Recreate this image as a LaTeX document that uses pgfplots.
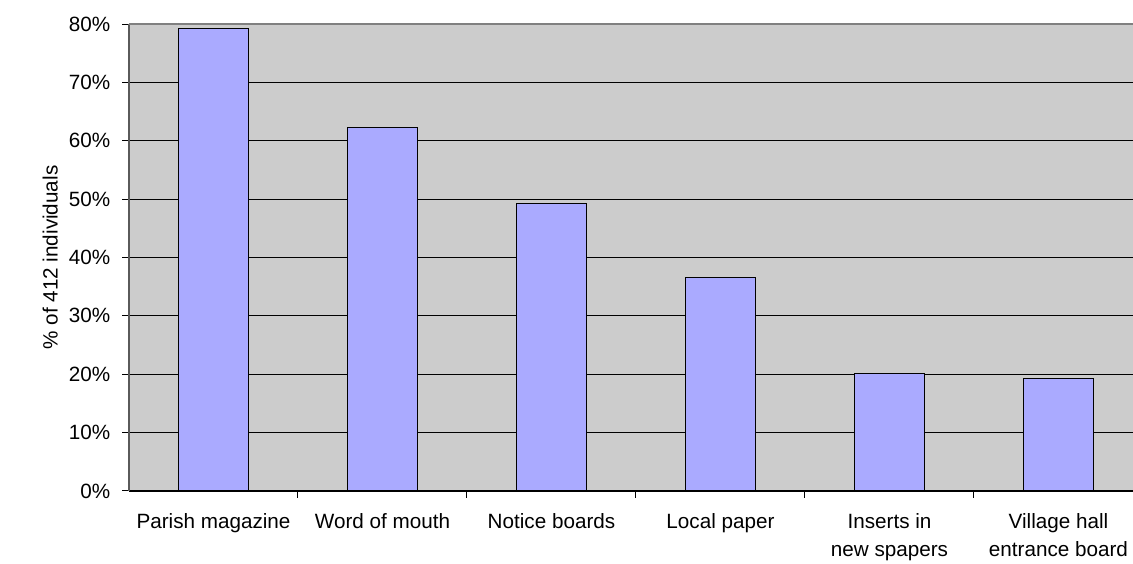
\documentclass[border=0pt]{standalone}
\usepackage{pgfplots}
\pgfplotsset{compat=1.18}
\usepackage{fontspec}
\setmainfont{Liberation Sans}
\definecolor{barfill}{HTML}{AAAAFF}
\definecolor{plotbg}{HTML}{CCCCCC}
\definecolor{frame}{HTML}{808080}
\begin{document}
\begin{tikzpicture}
\useasboundingbox (-96.75pt,-54.75pt) rectangle (753pt,368.25pt);
\begin{scope}[overlay]
\begin{axis}[
  scale only axis,
  width=760.5pt, height=350.25pt,
  xmin=-0.5, xmax=5.5,
  ymin=0, ymax=80,
  ytick={0,10,...,80},
  yticklabel={\pgfmathprintnumber{\tick}\%},
  /pgf/number format/assume math mode=true,
  xtick={0,1,2,3,4,5},
  xticklabels={Parish magazine, Word of mouth, Notice boards, Local paper, {Inserts in\\new spapers}, {Village hall\\entrance board}},
  major x tick style={draw=none},
  minor xtick={0.5,1.5,2.5,3.5,4.5},
  extra x ticks={-0.5},
  extra x tick labels={},
  extra x tick style={major x tick style={black}},
  tick align=outside,
  axis x line*=bottom, axis y line*=left,
  major tick length=5pt,
  minor tick length=5pt,
  tick style={black, line width=0.75pt},
  every tick label/.style={font=\fontsize{15.5}{21}\selectfont},
  xticklabel style={align=center, yshift=-8pt, text depth=0pt},
  yticklabel style={xshift=-5.5pt},
  ylabel={\% of 412 individuals},
  ylabel style={font=\fontsize{15.5}{20}\selectfont, yshift=1.5pt},
  ymajorgrids,
  major grid style={black, line width=0.75pt},
  axis background/.style={fill=plotbg},
  x axis line style={black, line width=0.9pt, -},
  y axis line style={frame!70!black, line width=1.1pt, -},
  bar width=0.414,
  ybar,
  after end axis/.code={
    \draw[frame, line width=1.5pt] (rel axis cs:0,1) -- (rel axis cs:1,1);
  },
]
\addplot[fill=barfill, draw=black, line width=0.75pt] coordinates {
  (0,79.3) (1,62.2) (2,49.3) (3,36.6) (4,20.2) (5,19.2)
};
\end{axis}
\end{scope}
\end{tikzpicture}
\end{document}
